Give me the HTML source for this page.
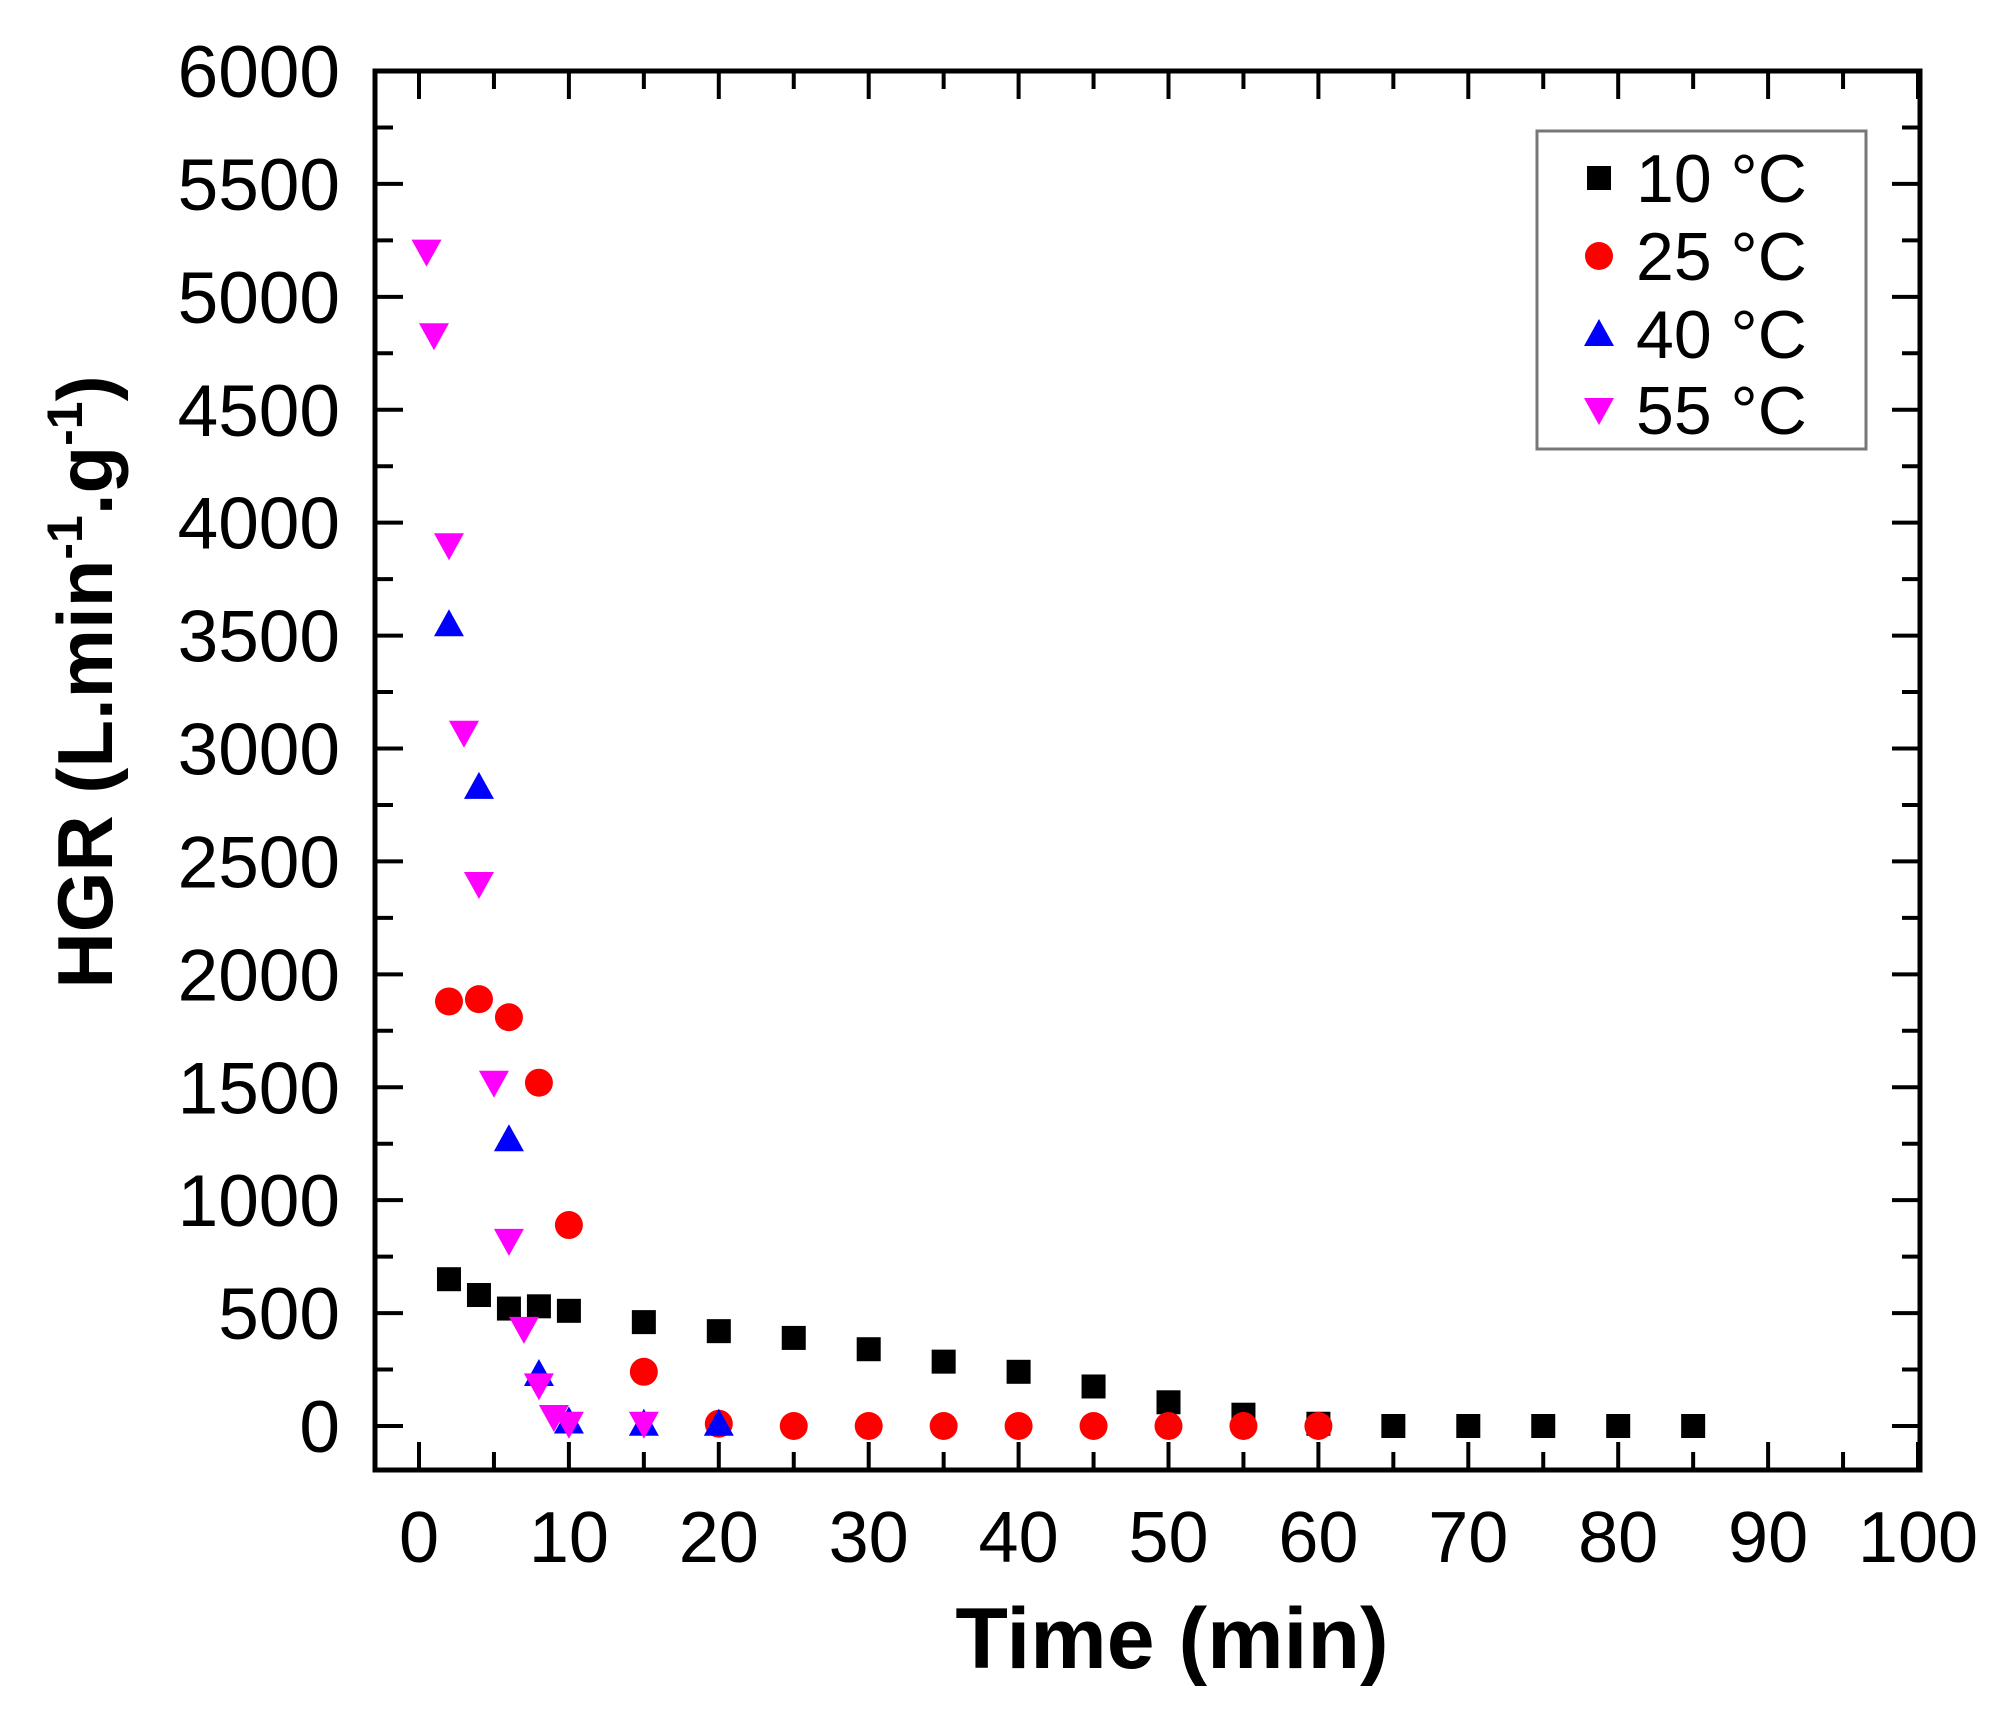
<!DOCTYPE html>
<html><head><meta charset="utf-8"><style>
html,body{margin:0;padding:0;background:#fff;}
svg text{font-family:"Liberation Sans",sans-serif;}
</style></head><body>
<svg id="chart" width="2002" height="1713" viewBox="0 0 2002 1713" xmlns="http://www.w3.org/2000/svg">
<g id="axes"></g><g id="marks"></g><g id="legend"></g>
</svg>
<script>
const xTicks=[0,10,20,30,40,50,60,70,80,90,100];
const yTicks=[0,500,1000,1500,2000,2500,3000,3500,4000,4500,5000,5500,6000];
const seriesNames=["10 °C","25 °C","40 °C","55 °C"];
const t10=[2,4,6,8,10,15,20,25,30,35,40,45,50,55,60,65,70,75,80,85];
const v10=[650,580,520,530,510,460,420,390,340,285,240,175,105,50,10,0,0,0,0,0];
const t25=[2,4,6,8,10,15,20,25,30,35,40,45,50,55,60];
const v25=[1880,1890,1810,1520,890,240,10,0,0,0,0,0,0,0,0];
const t40=[2,4,6,8,10,15,20];
const v40=[3550,2830,1270,230,20,10,10];
const t55=[0.5,1,2,3,4,5,6,7,8,9,10,15];
const v55=[5200,4830,3900,3070,2400,1520,820,430,180,40,10,10];

const NS="http://www.w3.org/2000/svg";
const L=375,R=1920,T=71,B=1470;
const X=v=>419+v*14.99;
const Y=v=>1426-v*0.22583;
function mk(tag,at,parent){const e=document.createElementNS(NS,tag);for(const k in at)e.setAttribute(k,at[k]);parent.appendChild(e);return e;}
const axes=document.getElementById('axes'),marks=document.getElementById('marks'),leg=document.getElementById('legend');

const frame=mk('rect',{x:L,y:T,width:R-L,height:B-T,fill:'none',stroke:'#000','stroke-width':5},axes);



for(let v=0;v<=100;v+=5){const x=X(v);const len=v%10===0?28:18;
 const a=mk('line',{x1:x,y1:B,x2:x,y2:B-len,stroke:'#000','stroke-width':4},axes);
 
 
 const b=mk('line',{x1:x,y1:T,x2:x,y2:T+len,stroke:'#000','stroke-width':4},axes);
 
 }
for(let v=0;v<=6000;v+=250){const y=Y(v);const len=v%500===0?28:18;
 const a=mk('line',{x1:L,y1:y,x2:L+len,y2:y,stroke:'#000','stroke-width':4},axes);
 
 
 const b=mk('line',{x1:R,y1:y,x2:R-len,y2:y,stroke:'#000','stroke-width':4},axes);
 
 }
xTicks.forEach(v=>{const t=mk('text',{x:X(v),y:1562,'font-size':72,'text-anchor':'middle',fill:'#000'},axes);t.textContent=v;
 
 });
yTicks.forEach(v=>{const t=mk('text',{x:340,y:Y(v)+26,'font-size':73,'text-anchor':'end',fill:'#000'},axes);t.textContent=v;
 
 });
const xt=mk('text',{x:1172,y:1668,'font-size':86,'font-weight':'bold','text-anchor':'middle',fill:'#000'},axes);xt.textContent='Time (min)';


const yt=mk('text',{x:0,y:0,'font-size':78,'font-weight':'bold','text-anchor':'middle',fill:'#000',transform:'translate(112,682) rotate(-90)'},axes);
yt.innerHTML='HGR (L.min<tspan dy="-30" font-size="50">-1</tspan><tspan dy="30">.g</tspan><tspan dy="-30" font-size="50">-1</tspan><tspan dy="30">)</tspan>';



function marker(kind,cx,cy,parent,s){s=s||1;
 if(kind===0)return mk('rect',{x:cx-12*s,y:cy-12*s,width:24*s,height:24*s,fill:'#000'},parent);
 if(kind===1)return mk('ellipse',{cx:cx,cy:cy,rx:14*s,ry:14*s,fill:'#f00'},parent);
 if(kind===2)return mk('polygon',{points:`${cx},${cy-15*s} ${cx-15*s},${cy+12*s} ${cx+15*s},${cy+12*s}`,fill:'#00f'},parent);
 return mk('polygon',{points:`${cx-15*s},${cy-12*s} ${cx+15*s},${cy-12*s} ${cx},${cy+15*s}`,fill:'#f0f'},parent);}
const S=[[t10,v10],[t25,v25],[t40,v40],[t55,v55]];
const names=['point-10c','point-25c','point-40c','point-55c'];
S.forEach((s,k)=>{s[0].forEach((t,i)=>{const m=marker(k,X(t),Y(s[1][i]),marks);
 
 });});

const lb=mk('rect',{x:1537,y:131,width:329,height:318,fill:'#fff',stroke:'#777','stroke-width':3},leg);


const rows=[178,256,334,410];
seriesNames.forEach((n,k)=>{const m=marker(k,1599,rows[k],leg,1);
 
 
 const t=mk('text',{x:1636,y:rows[k]+24,'font-size':68,fill:'#000'},leg);t.textContent=n;
 
 });
</script>
</body></html>
